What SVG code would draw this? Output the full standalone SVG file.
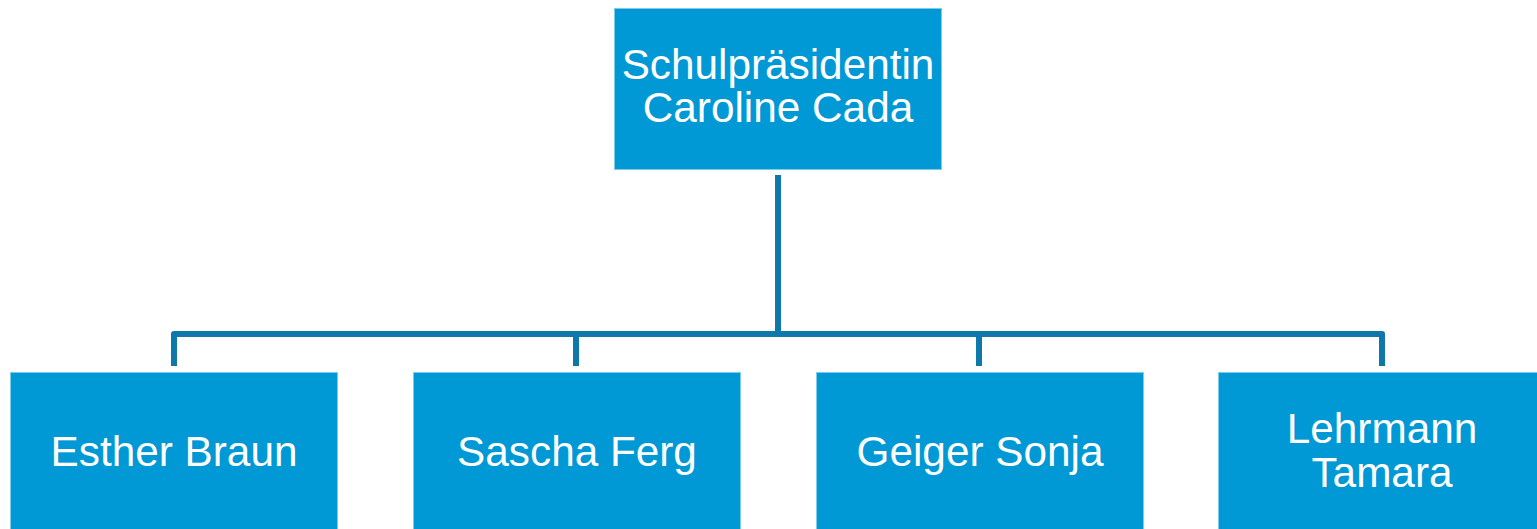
<svg xmlns="http://www.w3.org/2000/svg" width="1537" height="529" viewBox="0 0 1537 529">
<style>
.box{fill:#0099d5;stroke:#7fcbea;stroke-width:1}
.lbl{font-family:"Liberation Sans",Arial,sans-serif;font-size:42.3px;fill:#ffffff;text-anchor:middle}
.conn{fill:none;stroke:#0f78aa;stroke-width:6;stroke-linejoin:round}
</style>
<rect width="1537" height="529" fill="#ffffff"/>
<g id="connectors">
<path class="conn" d="M778 175 V334"/>
<path class="conn" d="M174 366 V334 H1382 V366"/>
<path class="conn" d="M576 334 V366"/>
<path class="conn" d="M979 334 V366"/>
</g>
<g id="n0">
<rect class="box" x="614.5" y="8.5" width="327" height="161"/>
<text class="lbl" x="778" y="79">Schulpräsidentin</text>
<text class="lbl" x="778" y="122">Caroline Cada</text>
</g>
<g id="n1">
<rect class="box" x="10.5" y="372.5" width="327" height="161"/>
<text class="lbl" x="174" y="466">Esther Braun</text>
</g>
<g id="n2">
<rect class="box" x="413.5" y="372.5" width="327" height="161"/>
<text class="lbl" x="577" y="466">Sascha Ferg</text>
</g>
<g id="n3">
<rect class="box" x="816.5" y="372.5" width="327" height="161"/>
<text class="lbl" x="980" y="466">Geiger Sonja</text>
</g>
<g id="n4">
<rect class="box" x="1218.5" y="372.5" width="327" height="161"/>
<text class="lbl" x="1382" y="443">Lehrmann</text>
<text class="lbl" x="1382" y="487">Tamara</text>
</g>
</svg>
